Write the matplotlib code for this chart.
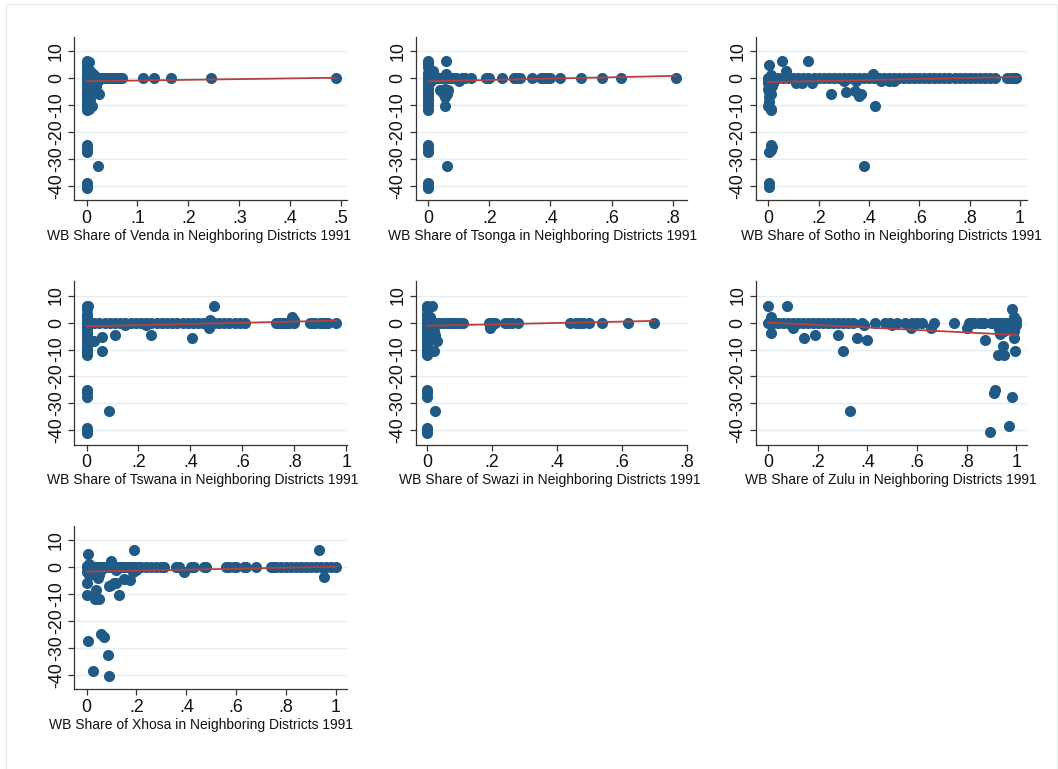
import matplotlib
matplotlib.use("Agg")
import matplotlib.pyplot as plt
from matplotlib.patches import Rectangle

plt.rcParams['font.family'] = ['Liberation Sans', 'DejaVu Sans']

# ---------------- data ----------------
groups = ["Venda", "Tsonga", "Sotho", "Tswana", "Swazi", "Zulu", "Xhosa"]

low_common = [(0, -25), (0, -26), (0, -27.5), (0, -39), (0, -40), (0, -40.8)]

venda_pts = [
    (0, 6.3), (0.004, 6.0), (0, 5), (0, 4), (0, 3), (0, 2), (0, 1), (0, 0), (0, -1), (0, -2),
    (0, -3), (0, -4), (0, -5), (0, -6), (0, -7), (0, -8), (0, -9), (0, -10), (0, -11), (0, -12),
    (0.004, -11.5), (0.01, -10.5), (0.006, -8), (0.008, -6), (0.01, -4), (0.012, -2), (0.015, -5),
    (0.02, -5.2), (0.025, -5.8), (0.018, -3), (0.022, -1), (0.015, 1), (0.01, 2), (0.005, 3),
    (0.02, 0), (0.025, 0), (0.03, 0), (0.035, 0), (0.04, 0), (0.045, 0), (0.05, 0), (0.055, 0),
    (0.06, 0), (0.065, 0), (0.07, 0), (0.11, 0), (0.132, 0), (0.165, 0), (0.245, 0), (0.49, 0),
    (0.023, -32.7),
]
tsonga_pts = [
    (0, 6.3), (0, 5.2), (0, 4), (0, 2), (0, 1), (0, 0), (0, -1), (0, -2), (0, -3), (0, -4), (0, -5),
    (0, -6), (0, -7), (0, -8), (0, -9), (0, -10), (0, -11), (0, -12), (0.015, 2.5), (0.02, 1),
    (0.01, -1), (0.04, -4.5), (0.05, -5.5), (0.055, -4), (0.065, -4.5), (0.06, -6), (0.055, -7),
    (0.057, 6.2), (0.058, 1.5), (0.055, -10.5), (0.1, -1.2),
    (0.01, 0), (0.02, 0), (0.03, 0), (0.04, 0), (0.05, 0), (0.06, 0), (0.07, 0), (0.08, 0),
    (0.09, 0), (0.11, 0), (0.12, 0), (0.14, 0), (0.19, 0), (0.2, 0), (0.24, 0), (0.28, 0),
    (0.29, 0), (0.3, 0), (0.34, 0), (0.37, 0), (0.38, 0), (0.39, 0), (0.4, 0), (0.43, 0),
    (0.5, 0), (0.57, 0), (0.63, 0), (0.81, 0),
    (0.063, -32.7),
]
sotho_pts = [
    (0.005, 5), (0, 0), (0, -1), (0, -2), (0, -4), (0.005, -3), (0.005, -5), (0.005, -7),
    (0.005, -9), (0, -10.5), (0.01, -11.5), (0.012, -12), (0.01, -6), (0.015, -3), (0.02, -2),
    (0.025, -1), (0.01, 1), (0.055, 6.2), (0.07, 2.5), (0.16, 6.2), (0.11, -2), (0.135, -2),
    (0.175, -2), (0.25, -5.8), (0.3, -1), (0.31, -5), (0.35, -1), (0.345, -4.8), (0.36, -6.5),
    (0.37, -5.8), (0.415, 1.5), (0.425, -10.5), (0.45, -1), (0.48, -1), (0.5, -1),
    (0.02, 0), (0.04, 0), (0.06, 0), (0.08, 0), (0.1, 0), (0.12, 0), (0.14, 0), (0.16, 0),
    (0.18, 0), (0.2, 0), (0.22, 0), (0.24, 0), (0.26, 0), (0.28, 0), (0.3, 0), (0.32, 0),
    (0.34, 0), (0.36, 0), (0.38, 0), (0.4, 0), (0.42, 0), (0.44, 0), (0.46, 0), (0.48, 0),
    (0.5, 0), (0.52, 0), (0.54, 0), (0.56, 0), (0.58, 0), (0.6, 0), (0.62, 0), (0.64, 0),
    (0.66, 0), (0.68, 0), (0.7, 0), (0.72, 0), (0.74, 0), (0.76, 0), (0.78, 0), (0.8, 0),
    (0.82, 0), (0.84, 0), (0.86, 0), (0.88, 0), (0.9, 0), (0.95, 0), (0.965, 0), (0.975, 0),
    (0.985, 0),
    (0.012, -25), (0.015, -25.5), (0.01, -26.5), (0.005, -27.5), (0.38, -32.7),
    (0.005, -39), (0.005, -40.5),
]
tswana_pts = [
    (0.002, 6.3), (0, 5), (0.005, 6), (0, 3), (0, 2), (0, 1), (0, 0), (0, -1), (0, -2), (0, -3),
    (0, -4), (0, -5), (0, -6), (0, -7), (0, -8), (0, -9), (0, -10), (0, -11), (0, -12),
    (0.03, -7), (0.06, -5.5), (0.06, -10.5), (0.11, -4.8), (0.15, -1), (0.23, -1), (0.25, -4.8),
    (0.405, -5.8), (0.49, 6.2), (0.47, -2), (0.475, 1), (0.79, 2.2), (0.8, 1),
    (0.01, 0), (0.03, 0), (0.05, 0), (0.07, 0), (0.09, 0), (0.11, 0), (0.13, 0), (0.15, 0),
    (0.17, 0), (0.19, 0), (0.21, 0), (0.23, 0), (0.25, 0), (0.27, 0), (0.29, 0), (0.31, 0),
    (0.33, 0), (0.35, 0), (0.37, 0), (0.39, 0), (0.41, 0), (0.43, 0), (0.45, 0), (0.47, 0),
    (0.49, 0), (0.51, 0), (0.53, 0), (0.55, 0), (0.57, 0), (0.59, 0), (0.61, 0),
    (0.73, 0), (0.74, 0), (0.75, 0), (0.76, 0), (0.77, 0), (0.78, 0), (0.8, 0),
    (0.86, 0), (0.87, 0), (0.88, 0), (0.9, 0), (0.91, 0), (0.92, 0), (0.93, 0), (0.96, 0),
    (0.085, -32.7),
]
swazi_pts = [
    (0, 6.3), (0.015, 6.2), (0, 5), (0, 3), (0, 2), (0, 1), (0, 0), (0, -1), (0, -2), (0, -3),
    (0, -4), (0, -5), (0, -6), (0, -7), (0, -8), (0, -9), (0, -10), (0, -11), (0, -12),
    (0.01, 2), (0.01, -2), (0.02, -3), (0.025, -4.5), (0.03, -6.8), (0.02, -10.5),
    (0.195, -2), (0.2, -1),
    (0.01, 0), (0.02, 0), (0.03, 0), (0.04, 0), (0.05, 0), (0.06, 0), (0.07, 0), (0.08, 0),
    (0.09, 0), (0.1, 0), (0.11, 0), (0.19, 0), (0.2, 0), (0.21, 0), (0.24, 0), (0.25, 0),
    (0.26, 0), (0.28, 0), (0.44, 0), (0.46, 0), (0.47, 0), (0.48, 0), (0.5, 0), (0.54, 0),
    (0.62, 0), (0.70, 0),
    (0.025, -32.7),
]
zulu_pts = [
    (0, 6.3), (0.075, 6.3), (0.01, 2), (0.01, -3.8), (0.1, -2), (0.145, -5.7), (0.19, -4.8),
    (0.28, -4.8), (0.3, -10.5), (0.36, -5.7), (0.4, -6.5), (0.385, -1), (0.5, -1), (0.575, -2),
    (0.655, -2), (0.8, -2), (0.875, -6.5), (0.925, -12), (0.95, -12), (0.945, -8.8),
    (0.935, -4.3), (0.95, -3), (0.96, -2), (0.985, 5), (0.99, -5.8), (0.995, -10.5),
    (0.94, -1), (0.96, -1.5), (0.97, -2.5), (0.98, -1), (0.99, -3), (1.0, -1), (0.95, -2),
    (0.93, -2.5), (0.99, 2), (1.0, 1),
    (0, 0), (0.02, 0), (0.04, 0), (0.06, 0), (0.08, 0), (0.1, 0), (0.12, 0), (0.14, 0),
    (0.16, 0), (0.18, 0), (0.2, 0), (0.22, 0), (0.24, 0), (0.26, 0), (0.28, 0), (0.3, 0),
    (0.32, 0), (0.34, 0), (0.38, 0), (0.43, 0), (0.47, 0), (0.49, 0), (0.52, 0), (0.55, 0),
    (0.58, 0), (0.6, 0), (0.62, 0), (0.67, 0), (0.75, 0), (0.81, 0), (0.82, 0), (0.83, 0),
    (0.85, 0), (0.86, 0), (0.87, 0), (0.9, 0), (0.91, 0), (0.92, 0), (0.93, 0), (0.94, 0),
    (0.95, 0), (0.96, 0), (0.97, 0), (0.98, 0), (0.99, 0), (1.0, 0),
    (0.915, -25), (0.91, -26), (0.985, -27.5), (0.33, -32.7), (0.895, -40.5), (0.97, -38.5),
]
xhosa_pts = [
    (0.005, 5), (0.19, 6.2), (0.93, 6.2), (0.1, 2.3), (0, -2), (0, -5.8), (0, -10.5), (0.01, -3),
    (0.04, -8.5), (0.035, -12), (0.05, -12), (0.045, -4), (0.09, -7), (0.1, -6.5), (0.11, -5.8),
    (0.12, -6), (0.13, -10.5), (0.15, -4.5), (0.175, -4.8), (0.185, -2), (0.2, -1), (0.39, -2),
    (0.95, -3.8), (0.02, -1), (0.03, -2), (0.05, -3), (0.06, -1), (0.1, 0.5), (0.12, -1),
    (0.01, 1), (0.0, 0.5),
    (0, 0), (0.01, 0), (0.02, 0), (0.03, 0), (0.04, 0), (0.05, 0), (0.06, 0), (0.07, 0),
    (0.08, 0), (0.09, 0), (0.1, 0), (0.11, 0), (0.12, 0), (0.13, 0), (0.14, 0), (0.15, 0),
    (0.16, 0), (0.17, 0), (0.18, 0), (0.19, 0), (0.2, 0), (0.21, 0), (0.22, 0), (0.24, 0),
    (0.26, 0), (0.28, 0), (0.3, 0), (0.31, 0), (0.36, 0), (0.37, 0), (0.42, 0), (0.43, 0),
    (0.47, 0), (0.48, 0), (0.56, 0), (0.57, 0), (0.59, 0), (0.6, 0), (0.63, 0), (0.64, 0),
    (0.68, 0), (0.74, 0), (0.75, 0), (0.76, 0), (0.78, 0), (0.8, 0), (0.82, 0), (0.84, 0),
    (0.86, 0), (0.88, 0), (0.9, 0), (0.92, 0), (0.94, 0), (0.96, 0), (0.98, 0), (1.0, 0),
    (0.005, -27.5), (0.06, -25), (0.07, -26), (0.085, -32.7), (0.025, -38.5), (0.09, -40.5),
]

# linear fit lines (endpoints)
venda_fit = [(0, -1.2), (0.49, 0.1)]
tsonga_fit = [(0, -1.2), (0.81, 0.8)]
sotho_fit = [(0, -1.5), (0.99, 0.4)]
tswana_fit = [(0, -1.4), (0.96, 0.7)]
swazi_fit = [(0, -1.2), (0.70, 0.6)]
zulu_fit = [(0, 0.0), (1.0, -4.6)]
xhosa_fit = [(0, -1.7), (1.0, 0.1)]

venda_ticks = [0, 0.1, 0.2, 0.3, 0.4, 0.5]
venda_ticklabels = ["0", ".1", ".2", ".3", ".4", ".5"]
tsonga_ticks = [0, 0.2, 0.4, 0.6, 0.8]
tsonga_ticklabels = ["0", ".2", ".4", ".6", ".8"]
unit_ticks = [0, 0.2, 0.4, 0.6, 0.8, 1.0]
unit_ticklabels = ["0", ".2", ".4", ".6", ".8", "1"]

y_ticks = [10, 0, -10, -20, -30, -40]
y_ticklabels = ["10", "0", "-10", "-20", "-30", "-40"]

panels = [
    ("Venda", venda_pts, venda_fit, venda_ticks, venda_ticklabels, True),
    ("Tsonga", tsonga_pts, tsonga_fit, tsonga_ticks, tsonga_ticklabels, True),
    ("Sotho", sotho_pts, sotho_fit, unit_ticks, unit_ticklabels, False),
    ("Tswana", tswana_pts, tswana_fit, unit_ticks, unit_ticklabels, True),
    ("Swazi", swazi_pts, swazi_fit, tsonga_ticks, tsonga_ticklabels, True),
    ("Zulu", zulu_pts, zulu_fit, unit_ticks, unit_ticklabels, False),
    ("Xhosa", xhosa_pts, xhosa_fit, unit_ticks, unit_ticklabels, False),
]

# ---------------- layout ----------------
W, H = 1058, 769
fig = plt.figure(figsize=(W / 100, H / 100), dpi=100)
fig.patch.set_facecolor("white")
fig.patches.append(Rectangle((6 / W, -0.02), (1057 - 6) / W, 1.02 - 4 / H,
                             transform=fig.transFigure, fill=False,
                             edgecolor="#e6eeee", linewidth=1.0))

col_left = [74, 415.7, 755.7]
col_width = [273, 271, 271.5]
row_top = [37, 281.5, 526]
ax_h = 163
label_cx = [199, 543, 891.5, 202.5, 550, 891, 200.5]
label_base = [240, 484, 729]

# per-panel data range padding (pixels)
pad_left_px, pad_right_px = 12.5, 11

dot_color = "#205a86"
fit_color = "#b5403f"
grid_color = "#e4eef0"

for i, (name, pts, fit, xt, xtl, uses_common_low) in enumerate(panels):
    r, c = divmod(i, 3)
    left = col_left[c]
    width = col_width[c]
    top = row_top[r]
    ax = fig.add_axes([left / W, 1 - (top + ax_h) / H, width / W, ax_h / H])
    all_pts = pts + (low_common if uses_common_low else [])
    xs = [p[0] for p in all_pts]
    ys = [p[1] for p in all_pts]
    ax.scatter(xs, ys, s=64, color=dot_color, linewidths=0, zorder=3, clip_on=False)
    ax.plot([p[0] for p in fit], [p[1] for p in fit], color=fit_color, lw=1.3, zorder=4)

    xmin, xmax = min(xs), max(xs)
    span_px = width - pad_left_px - pad_right_px
    scale = (xmax - xmin) / span_px
    ax.set_xlim(xmin - pad_left_px * scale, xmax + pad_right_px * scale)
    ax.set_ylim(-45.2, 15.2)

    ax.set_xticks(xt)
    ax.set_xticklabels(xtl)
    ax.set_yticks(y_ticks)
    ax.set_yticklabels(y_ticklabels, rotation=90, va="center")
    ax.tick_params(axis="both", length=4, width=0.9, color="#333333",
                   labelsize=12.8, labelcolor="#111111")
    ax.tick_params(axis="x", pad=3)
    ax.tick_params(axis="y", pad=2.5)
    for side in ("top", "right"):
        ax.spines[side].set_visible(False)
    for side in ("left", "bottom"):
        ax.spines[side].set_color("#333333")
        ax.spines[side].set_linewidth(0.9)
    ax.grid(axis="y", color=grid_color, lw=1.0, zorder=0)
    ax.set_axisbelow(True)
    ax.set_facecolor("white")

    fig.text(label_cx[i] / W, 1 - label_base[r] / H,
             f"WB Share of {name} in Neighboring Districts 1991",
             ha="center", va="baseline", fontsize=10.0, color="#111111")

fig.savefig("out.png", dpi=100, facecolor="white")
